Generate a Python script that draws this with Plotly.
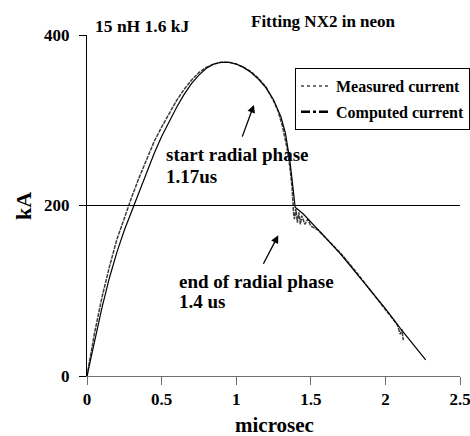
import plotly.graph_objects as go

# ---- data ----
meas_t = [0, 0.05, 0.1, 0.15, 0.2, 0.25, 0.3, 0.35, 0.4, 0.45, 0.5, 0.55, 0.6, 0.65,
          0.7, 0.75, 0.8, 0.85, 0.9, 0.95, 1.0, 1.05, 1.1, 1.15, 1.2, 1.25, 1.28, 1.31,
          1.34, 1.36, 1.375, 1.385, 1.39, 1.40, 1.41, 1.42, 1.43, 1.44, 1.46, 1.48, 1.5,
          1.55, 1.6, 1.7, 1.8, 1.9, 2.0, 2.05, 2.08, 2.1, 2.11, 2.12]
meas_kA = [0, 50, 92, 128, 160, 186, 210, 233, 254, 275, 292, 308, 323, 336,
           347, 356, 362, 366, 368, 368, 366, 362, 357, 349, 339, 323, 311, 293,
           268, 245, 220, 190, 184, 196, 180, 192, 178, 188, 178, 184, 176,
           171, 162, 144, 123, 100, 78, 67, 60, 49, 55, 42]

comp_t = [0, 0.05, 0.1, 0.15, 0.2, 0.25, 0.3, 0.35, 0.4, 0.45, 0.5, 0.55, 0.6, 0.65,
          0.7, 0.75, 0.8, 0.85, 0.9, 0.95, 1.0, 1.05, 1.1, 1.15, 1.2, 1.25, 1.3, 1.33,
          1.36, 1.38, 1.395, 1.45, 1.5, 1.6, 1.7, 1.8, 1.9, 2.0, 2.1, 2.2, 2.27]
comp_kA = [0, 40, 80, 115, 145, 171, 194, 216, 239, 261, 281, 299, 315, 330,
           343, 353, 361, 366, 368, 368, 366, 362, 356, 348, 338, 324, 304, 285,
           252, 222, 198, 190, 181, 162, 143, 122, 101, 79, 56, 34, 19]

x_ticks = [0, 0.5, 1, 1.5, 2, 2.5]
x_tick_labels = ["0", "0.5", "1", "1.5", "2", "2.5"]
y_ticks = [0, 200, 400]
y_tick_labels = ["0", "200", "400"]
ref_level = 200

SERIF = "Liberation Serif, Times New Roman, serif"

# plot-area geometry in pixels (for placing text annotations)
L, R, T, B = 87, 460, 35, 376
W, H = 470, 436


def px(xp):
    return (xp - L) / (R - L)


def py(yp):
    return (B - yp) / (B - T)


fig = go.Figure()

# actual curves (legend handled by dummy traces)
fig.add_trace(go.Scatter(x=meas_t, y=meas_kA, mode="lines", showlegend=False,
                         line=dict(color="rgb(60,60,60)", width=1.5, dash="4px,1px")))
fig.add_trace(go.Scatter(x=comp_t, y=comp_kA, mode="lines", showlegend=False,
                         line=dict(color="black", width=1.2)))

# legend entries
fig.add_trace(go.Scatter(x=[None], y=[None], mode="lines", name="Measured current",
                         legendgroup="a",
                         line=dict(color="rgb(70,70,70)", width=1.5, dash="dot")))
fig.add_trace(go.Scatter(x=[None], y=[None], mode="lines", name="Computed current",
                         legendgroup="b",
                         line=dict(color="black", width=2.5, dash="dashdot")))

fig.add_hline(y=ref_level, line=dict(color="black", width=1))

bold = dict(family=SERIF, color="black", weight="bold")

annos = [
    dict(text="15 nH 1.6 kJ", x=px(93), y=py(26), size=17.5),
    dict(text="Fitting NX2 in neon", x=px(249), y=py(21), size=17),
    dict(text="start radial phase", x=px(164), y=py(154), size=19),
    dict(text="1.17us", x=px(164), y=py(176), size=19),
    dict(text="end of radial phase", x=px(177), y=py(281), size=19),
    dict(text="1.4 us", x=px(177), y=py(301), size=19),
]
for a in annos:
    fig.add_annotation(text=a["text"], x=a["x"], y=a["y"], xref="paper", yref="paper",
                       xanchor="left", yanchor="middle", showarrow=False,
                       font=dict(size=a["size"], **bold))

# arrows
arrows = [((1.119, 318), (1.037, 279)), ((1.282, 165), (1.177, 130))]
for (hx, hy), (tx, ty) in arrows:
    fig.add_annotation(x=hx, y=hy, ax=tx, ay=ty, xref="x", yref="y", axref="x", ayref="y",
                       text="", showarrow=True, arrowhead=2, arrowsize=1.2,
                       arrowwidth=1.3, arrowcolor="black")

# axis titles
fig.add_annotation(text="microsec", x=px(274), y=py(425), xref="paper", yref="paper",
                   showarrow=False, xanchor="center", yanchor="middle",
                   font=dict(size=21, **bold))
fig.add_annotation(text="kA", x=px(23), y=py(206), xref="paper", yref="paper",
                   showarrow=False, xanchor="center", yanchor="middle", textangle=-90,
                   font=dict(size=22, **bold))

fig.update_layout(
    width=W, height=H,
    margin=dict(l=L, r=W - R, t=T, b=H - B, pad=0, autoexpand=False),
    paper_bgcolor="white", plot_bgcolor="white",
    showlegend=True,
    legend=dict(x=px(295), y=py(68), xanchor="left", yanchor="top",
                bordercolor="black", borderwidth=1, bgcolor="white",
                font=dict(size=16, **bold), tracegroupgap=2, traceorder="grouped",
                itemwidth=30),
    xaxis=dict(range=[0, 2.5], tickvals=x_ticks, ticktext=x_tick_labels,
               showgrid=False, zeroline=False, showline=True, linecolor="rgb(110,110,110)",
               linewidth=1, ticks="outside", ticklen=8, tickcolor="rgb(110,110,110)",
               tickfont=dict(size=17, **bold), ticklabelstandoff=0,
               ticklabeloverflow="allow"),
    yaxis=dict(range=[0, 400], tickvals=y_ticks, ticktext=y_tick_labels,
               showgrid=False, zeroline=False, showline=True, linecolor="black",
               linewidth=1, ticks="outside", ticklen=7, tickcolor="black",
               tickfont=dict(size=17, **bold), ticklabelstandoff=6),
)

fig.write_html("out.html", config={"displayModeBar": False},
               post_script="document.body.style.margin='0';")
